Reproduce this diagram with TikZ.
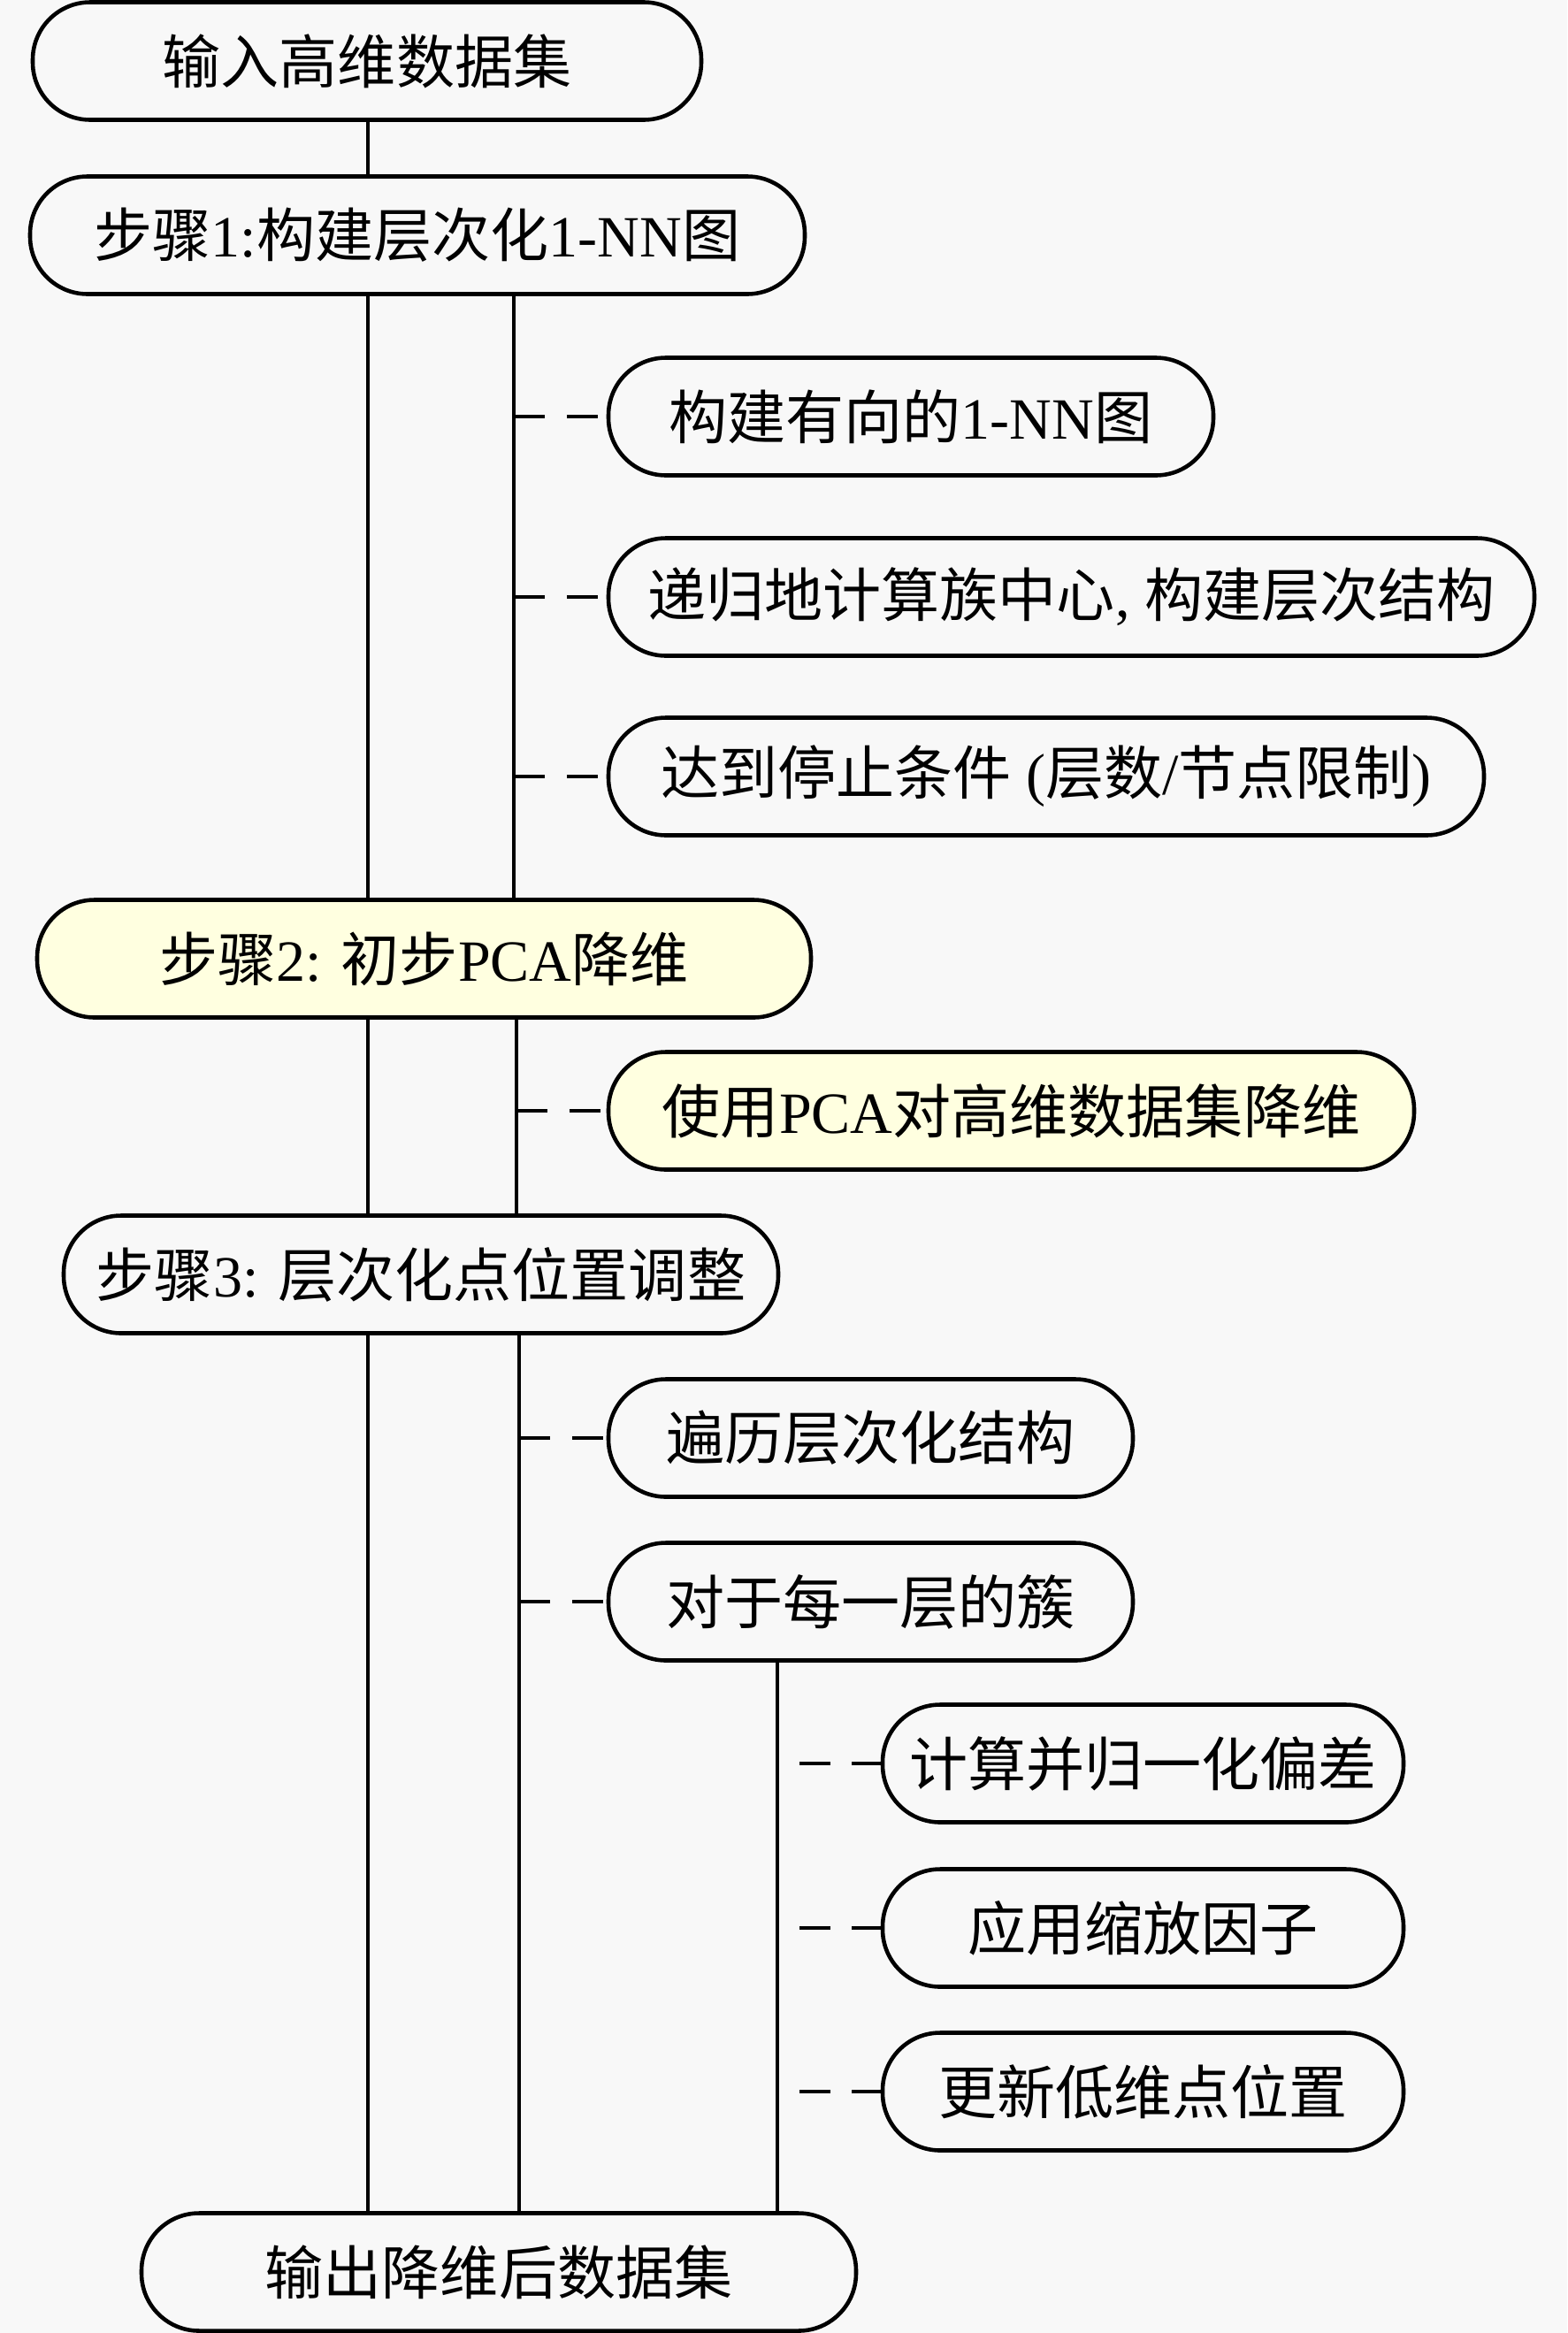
\documentclass[tikz,border=0pt]{standalone}
\usepackage{fontspec}
\setmainfont{Liberation Serif}
\newfontfamily\cjk{Noto Sans CJK SC}
\newcommand\zh[1]{{\cjk #1}}
\definecolor{paper}{RGB}{248,248,248}
\definecolor{cream}{RGB}{255,255,224}
\tikzset{
  stepbox/.style={draw=black, line width=1.3pt, fill=paper, rounded corners=0.65cm,
    minimum height=1.33cm, inner sep=0pt, font=\fontsize{18.8}{22}\selectfont},
  pcabox/.style={stepbox, fill=cream},
  trunk/.style={line width=0.9pt},
  twig/.style={line width=1.1pt, dash pattern=on 10pt off 7pt},
  farwig/.style={twig, dash phase=10pt}
}

\begin{document}
\begin{tikzpicture}
    \useasboundingbox[fill=paper] (0,0) rectangle (17.72,-26.38);
    % main steps
    \node[stepbox, minimum width=7.56cm] (in)  at (4.15,-0.69)  {\zh{输入高维数据集}};
    \node[stepbox, minimum width=8.76cm] (s1)  at (4.72,-2.66)  {\zh{步骤}1:\zh{构建层次化}1-NN\zh{图}};
    \node[pcabox,  minimum width=8.75cm] (s2)  at (4.795,-10.84) {\zh{步骤}2: \zh{初步}PCA\zh{降维}};
    \node[stepbox, minimum width=8.08cm] (s3)  at (4.76,-14.41) {\zh{步骤}3: \zh{层次化点位置调整}};
    \node[stepbox, minimum width=8.08cm] (out) at (5.64,-25.69) {\zh{输出降维后数据集}};
    % sub steps
    \node[stepbox, minimum width=6.84cm]  (s1a) at (10.30,-4.71)  {\zh{构建有向的}1-NN\zh{图}};
    \node[stepbox, minimum width=10.47cm] (s1b) at (12.115,-6.75) {\zh{递归地计算族中心}, \zh{构建层次结构}};
    \node[stepbox, minimum width=9.90cm]  (s1c) at (11.83,-8.78)  {\zh{达到停止条件} (\zh{层数}/\zh{节点限制})};
    \node[pcabox,  minimum width=9.11cm]  (s2a) at (11.435,-12.56) {\zh{使用}PCA\zh{对高维数据集降维}};
    \node[stepbox, minimum width=5.93cm]  (s3a) at (9.845,-16.26) {\zh{遍历层次化结构}};
    \node[stepbox, minimum width=5.93cm]  (s3b) at (9.845,-18.11) {\zh{对于每一层的簇}};
    \node[stepbox, minimum width=5.89cm]  (c1)  at (12.925,-19.94) {\zh{计算并归一化偏差}};
    \node[stepbox, minimum width=5.89cm]  (c2)  at (12.925,-21.80) {\zh{应用缩放因子}};
    \node[stepbox, minimum width=5.89cm]  (c3)  at (12.925,-23.65) {\zh{更新低维点位置}};

    % trunk lines
    \coordinate (t0) at (4.16,0);
    \coordinate (t1) at (5.81,0);
    \coordinate (t2) at (5.84,0);
    \coordinate (t3) at (5.87,0);
    \coordinate (t4) at (8.79,0);
    \draw[trunk] (in.south -| t0) -- (s1.north -| t0);
    \draw[trunk] (s1.south -| t0) -- (s2.north -| t0);
    \draw[trunk] (s2.south -| t0) -- (s3.north -| t0);
    \draw[trunk] (s3.south -| t0) -- (out.north -| t0);
    \draw[trunk] (s1.south -| t1) -- (s2.north -| t1);
    \draw[trunk] (s2.south -| t2) -- (s3.north -| t2);
    \draw[trunk] (s3.south -| t3) -- (out.north -| t3);
    \draw[trunk] (s3b.south -| t4) -- (out.north -| t4);

    % dashed branches
    \foreach \n in {s1a,s1b,s1c}
        \draw[twig] (\n.west -| t1) -- (\n.west);
    \draw[twig] (s2a.west -| t2) -- (s2a.west);
    \foreach \n in {s3a,s3b}
        \draw[twig] (\n.west -| t3) -- (\n.west);
    \foreach \n in {c1,c2,c3}
        \draw[farwig] (\n.west -| t4) -- (\n.west);
\end{tikzpicture}
\end{document}
